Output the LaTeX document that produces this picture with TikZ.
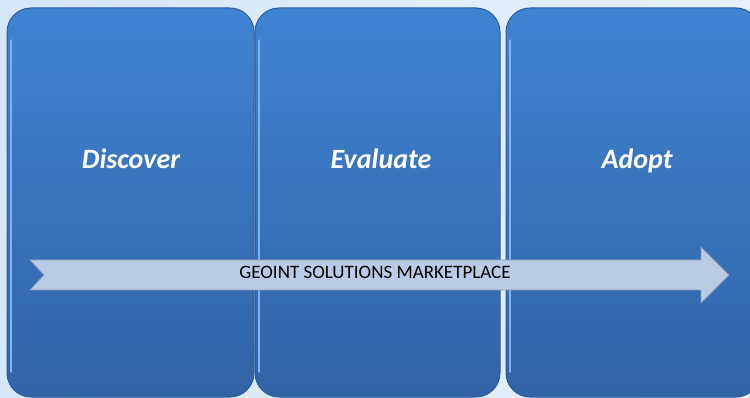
\documentclass[tikz,border=0pt]{standalone}
\usepackage{fontspec}
\setmainfont{Carlito}
\usetikzlibrary{shadings}
\definecolor{bgA}{HTML}{E6F1FC}
\definecolor{bgB}{HTML}{D5E6F7}
\definecolor{boxtop}{HTML}{3F83D3}
\definecolor{boxbot}{HTML}{3263A5}
\definecolor{boxedge}{HTML}{2F5E9C}
\definecolor{boxhi}{HTML}{7DB4EE}
\definecolor{arrowfill}{HTML}{B9CBE5}
\definecolor{arrowedge}{HTML}{8C9CB6}
\tikzset{
  panel/.style={rounded corners=24pt, top color=boxtop, bottom color=boxbot, draw=boxedge, line width=1pt},
  panelhi/.style={draw=boxhi, line width=1.4pt, line cap=round},
  phase/.style={text=white, font=\bfseries\itshape\fontsize{28}{32}\selectfont, anchor=base},
  bandarrow/.style={fill=arrowfill, draw=arrowedge, line width=0.8pt},
  bandlabel/.style={text=black, font=\fontsize{19}{22}\selectfont, anchor=base}
}
\begin{document}
\begin{tikzpicture}[x=1pt,y=-1pt]
\useasboundingbox (0,0) rectangle (750,398);
\shade[left color=bgB, right color=bgA] (0,0) rectangle (750,398);
% panels
\path[panel] (7,8) rectangle (254,397);
\draw[panelhi] (11,40) -- (11,372);
\path[panel] (255,8) rectangle (500,397);
\draw[panelhi] (259,40) -- (259,372);
\path[panel] (506,8) rectangle (760,397);
\draw[panelhi] (510,40) -- (510,372);
\node[phase] (disc) at (131,169) {Discover};
\node[phase] (eval) at (381,169) {Evaluate};
\node[phase] (adopt) at (637,169) {Adopt};
% arrow
\path[bandarrow] (30,260) -- (701,260) -- (701,247) -- (729,275) -- (701,303) -- (701,290) -- (30,290) -- (44,275) -- cycle;
\node[bandlabel] (lab) at (375,279) {GEOINT SOLUTIONS MARKETPLACE};
\end{tikzpicture}
\end{document}
